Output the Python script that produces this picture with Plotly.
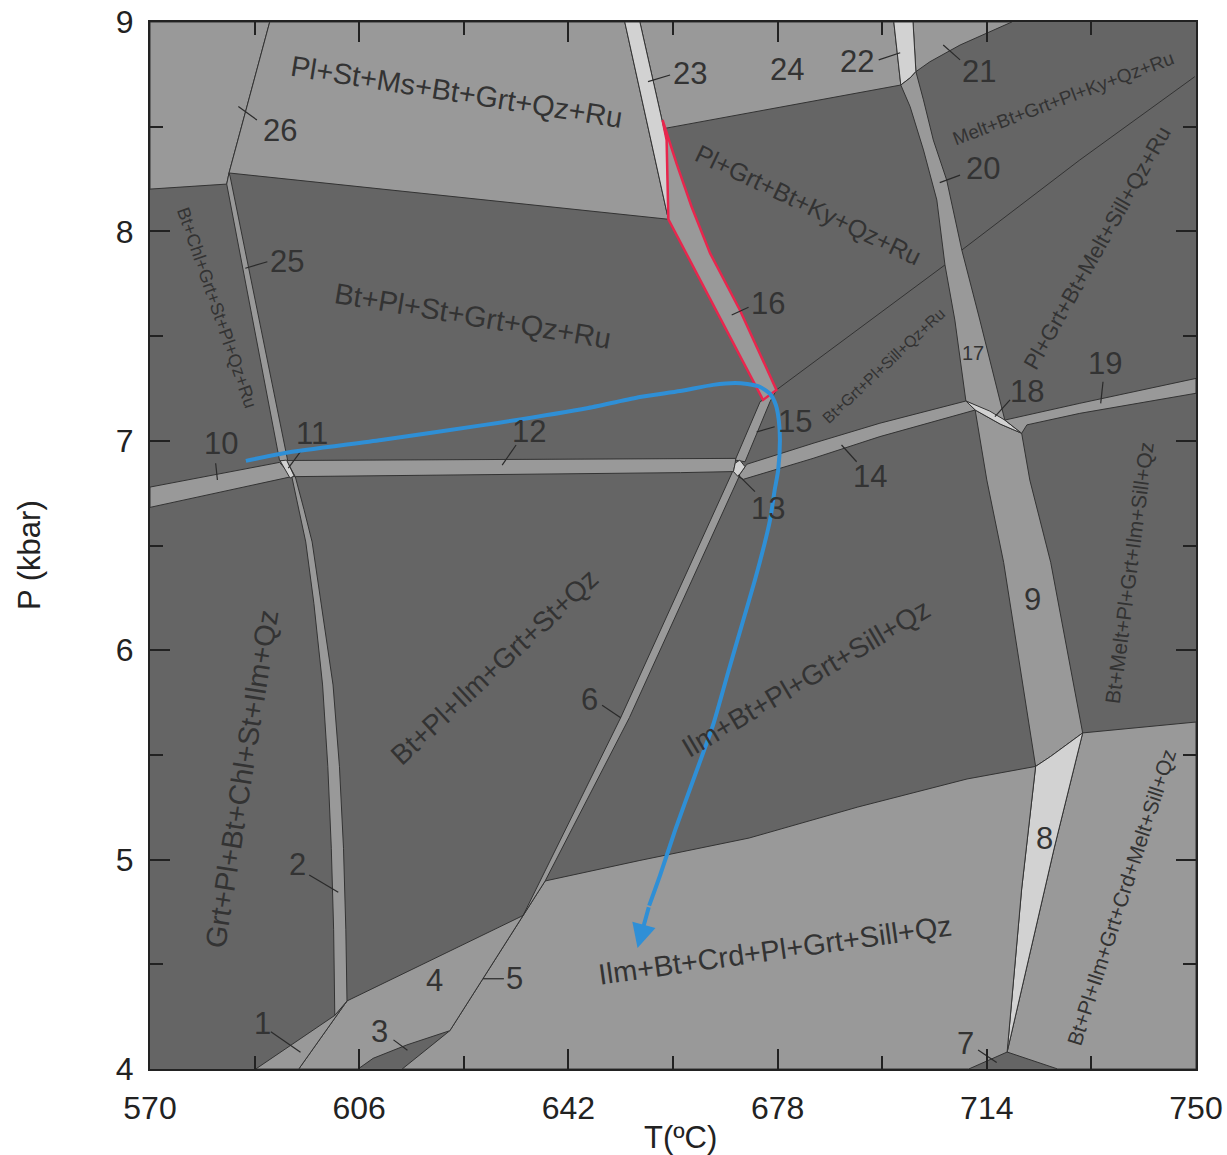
import plotly.graph_objects as go

# ---------------- colours / styles ----------------
DARK = "#656565"
MID = "#999999"
LIGHT = "#d2d2d2"
EDGE = "#333333"
TEXT = "#333333"
RED = "#e8264d"
BLUE = "#2f8fd6"
FONT = "Liberation Sans, Arial, sans-serif"

# ---------------- field polygons (T in degC, P in kbar) ----------------
TL_FIELD = [(570, 9.0), (590.6, 9.0), (583.6, 8.279), (583.2, 8.226), (570, 8.202)]
PSM_FIELD = [(590.6, 9.0), (651.7, 9.0), (659.2, 8.058), (583.6, 8.279)]
STRIP_23 = [(651.7, 9.0), (654.3, 9.0), (658.1, 8.532), (658.9, 8.436), (659.2, 8.058)]
FIELD_24 = [(654.3, 9.0), (698.0, 9.0), (699.2, 8.699), (681.9, 8.612), (658.6, 8.492), (658.1, 8.532)]
STRIP_22 = [(698.0, 9.0), (701.3, 9.0), (701.8, 8.763), (700.8, 8.733), (699.2, 8.699)]
FIELD_21 = [(701.3, 9.0), (718.3, 9.0), (709.4, 8.890), (704.2, 8.810), (701.8, 8.763)]
STRIP_20_17 = [(701.8, 8.763), (700.8, 8.733), (699.2, 8.699), (700.8, 8.596), (703.1, 8.389),
               (705.4, 8.150), (706.8, 7.840), (708.5, 7.577), (710.4, 7.190), (717.1, 7.099),
               (712.8, 7.577), (709.7, 7.911), (707.1, 8.245), (704.8, 8.436), (703.1, 8.628)]
JUNCTION_18 = [(710.4, 7.190), (714.5, 7.142), (717.1, 7.099), (720.0, 7.036), (716.3, 7.080), (712.0, 7.147)]
STRIP_9 = [(712.0, 7.147), (714.0, 6.813), (716.9, 6.419), (722.4, 5.445), (725.0, 5.493), (730.5, 5.605),
           (725.0, 6.419), (721.4, 6.813), (720.0, 7.036), (716.3, 7.080)]
STRIP_8 = [(722.4, 5.445), (725.0, 5.493), (730.5, 5.605), (725.6, 5.055), (717.5, 4.081), (720.0, 4.860)]
BR_FIELD = [(730.5, 5.605), (750, 5.657), (750, 4.0), (726.2, 4.0), (717.5, 4.081), (725.6, 5.055)]
BOTTOM_FIELD = [(638.0, 4.898), (654.3, 4.996), (673.1, 5.103), (691.8, 5.251), (710.6, 5.385),
                (722.4, 5.445), (720.0, 4.860), (717.5, 4.081), (710.9, 4.0), (613.4, 4.0),
                (621.6, 4.183), (634.2, 4.733)]
FIELD_4 = [(603.9, 4.325), (634.2, 4.733), (621.6, 4.183), (614.2, 4.115), (608.4, 4.051),
           (605.8, 4.0), (595.6, 4.0)]
FIELD_1 = [(588.2, 4.0), (601.8, 4.256), (603.9, 4.325), (595.6, 4.0)]
STRIP_2 = [(594.4, 6.829), (595.6, 6.672), (596.8, 6.517), (598.2, 6.224), (599.7, 5.834),
           (600.6, 5.445), (601.2, 5.054), (601.6, 4.665), (601.8, 4.256),
           (603.9, 4.325), (603.7, 4.665), (603.3, 5.054), (602.6, 5.445), (601.5, 5.834),
           (599.5, 6.224), (597.9, 6.517), (596.5, 6.672), (595.0, 6.829)]
STRIP_6 = [(670.3, 6.856), (671.5, 6.837), (652.5, 5.678), (638.0, 4.898), (634.2, 4.733), (651.0, 5.678)]
STRIP_15 = [(670.7, 6.908), (675.0, 7.187), (675.5, 7.195), (677.8, 7.243), (676.7, 7.187), (672.4, 6.900)]
JUNCTION_13 = [(670.7, 6.893), (671.5, 6.908), (672.4, 6.876), (671.2, 6.829), (670.4, 6.853)]
STRIP_12 = [(593.5, 6.906), (661.3, 6.916), (670.8, 6.916), (670.7, 6.893), (670.4, 6.853),
            (661.3, 6.848), (595.0, 6.829)]
STRIP_14 = [(672.4, 6.876), (672.7, 6.888), (684.1, 6.988), (695.6, 7.084), (710.4, 7.190),
            (712.0, 7.147), (695.6, 7.020), (684.1, 6.916), (672.1, 6.816), (671.2, 6.829)]
STRIP_19 = [(717.1, 7.099), (730.0, 7.179), (750, 7.298), (750, 7.227), (730.0, 7.131),
            (720.9, 7.076), (720.0, 7.036)]
STRIP_10 = [(570, 6.779), (592.3, 6.897), (594.4, 6.829), (570, 6.682)]
JUNCTION_11 = [(592.4, 6.904), (593.5, 6.908), (594.8, 6.832), (594.1, 6.822)]
STRIP_25 = [(583.2, 8.226), (583.6, 8.279), (583.8, 8.261), (593.7, 6.905), (592.3, 6.905)]
FIELD_16 = [(658.2, 8.532), (658.9, 8.436), (659.2, 8.058), (675.5, 7.195), (677.8, 7.243),
            (671.5, 7.625), (666.4, 7.895), (663.2, 8.118), (660.6, 8.325)]

# Ky / Sill reaction line crossing the dark fields
KY_SILL_T = [677.8, 695.6, 706.8, 709.7, 730.0, 749.8]
KY_SILL_P = [7.243, 7.609, 7.840, 7.911, 8.341, 8.739]

# P-T path (last point = arrow tip)
PATH_T = [586.5, 593.2, 609.8, 627.6, 645.4, 654.3, 661.2, 666.9, 670.7, 672.8, 675.0, 676.7,
          677.7, 678.2, 678.4, 678.1, 677.5, 676.7, 675.7, 674.1, 671.9, 669.5, 666.9, 663.8,
          660.5, 657.8, 655.9, 653.9]
PATH_P = [6.904, 6.942, 7.004, 7.076, 7.157, 7.209, 7.238, 7.267, 7.276, 7.271, 7.257, 7.224,
          7.171, 7.099, 7.004, 6.861, 6.765, 6.622, 6.502, 6.335, 6.125, 5.896, 5.643, 5.404,
          5.151, 4.927, 4.780, 4.578]

# Field numbers with leader lines
NUM_TEXT = ["26", "25", "23", "24", "22", "21", "20", "16", "17", "18", "19", "15", "14", "13",
            "12", "11", "10", "9", "8", "7", "6", "5", "4", "3", "2", "1"]
NUM_T = [592.3, 593.5, 662.9, 679.6, 691.6, 712.7, 713.3, 676.4, 711.7, 720.9, 734.3, 681.0,
         693.9, 676.4, 635.3, 597.9, 582.2, 721.9, 723.9, 710.3, 645.7, 632.7, 619.0, 609.5,
         595.3, 589.3]
NUM_P = [8.484, 7.855, 8.755, 8.771, 8.810, 8.763, 8.301, 7.657, 7.418, 7.235, 7.370, 7.091,
         6.829, 6.678, 7.043, 7.036, 6.988, 6.244, 5.103, 4.120, 5.766, 4.431, 4.421, 4.178,
         4.977, 4.216]
NUM_SIZE = [31] * 26
NUM_SIZE[8] = 20

LEADERS = [
    [(585.2, 8.596), (588.4, 8.532)],   # 26
    [(586.4, 7.824), (590.2, 7.855)],   # 25
    [(655.7, 8.715), (659.5, 8.747)],   # 23
    [(695.4, 8.819), (699.1, 8.853)],   # 22
    [(706.5, 8.890), (709.4, 8.819)],   # 21
    [(705.9, 8.233), (709.4, 8.269)],   # 20
    [(670.1, 7.601), (673.0, 7.638)],   # 16
    [(715.4, 7.115), (718.0, 7.195)],   # 18
    [(734.0, 7.282), (733.6, 7.179)],   # 19
    [(674.4, 7.043), (677.5, 7.067)],   # 15
    [(689.0, 6.980), (691.6, 6.900)],   # 14
    [(671.2, 6.837), (674.1, 6.757)],   # 13
    [(630.6, 6.884), (633.0, 6.980)],   # 12
    [(593.8, 6.869), (595.9, 6.948)],   # 11
    [(581.3, 6.893), (581.6, 6.813)],   # 10
    [(712.5, 4.091), (715.7, 4.031)],   # 7
    [(647.8, 5.737), (651.0, 5.678)],   # 6
    [(627.3, 4.431), (630.9, 4.431)],   # 5
    [(611.9, 4.139), (614.3, 4.090)],   # 3
    [(597.4, 4.927), (602.4, 4.844)],   # 2
    [(590.8, 4.178), (595.9, 4.080)],   # 1
]

# Assemblage labels
FIELD_TEXT = ["Pl+St+Ms+Bt+Grt+Qz+Ru", "Bt+Pl+St+Grt+Qz+Ru", "Bt+Chl+Grt+St+Pl+Qz+Ru",
              "Pl+Grt+Bt+Ky+Qz+Ru", "Melt+Bt+Grt+Pl+Ky+Qz+Ru", "Pl+Grt+Bt+Melt+Sill+Qz+Ru",
              "Bt+Grt+Pl+Sill+Qz+Ru", "Grt+Pl+Bt+Chl+St+Ilm+Qz", "Bt+Pl+Ilm+Grt+St+Qz",
              "Ilm+Bt+Pl+Grt+Sill+Qz", "Ilm+Bt+Crd+Pl+Grt+Sill+Qz", "Bt+Melt+Pl+Grt+Ilm+Sill+Qz",
              "Bt+Pl+Ilm+Grt+Crd+Melt+Sill+Qz"]
FIELD_T = [622.8, 625.6, 581.5, 683.4, 727.1, 733.1, 696.3, 585.8, 629.4, 682.9, 677.6, 738.6, 737.1]
FIELD_P = [8.666, 7.596, 7.634, 8.126, 8.637, 7.921, 7.362, 5.385, 5.920, 5.863, 4.568, 6.369, 4.821]
FIELD_ANGLE = [9, 9.5, 71, 25.5, -20.5, -60.5, -43, -81, -43, -30.5, -8, -82.5, -72]
FIELD_SIZE = [29, 29, 18, 25, 19, 22, 16, 29, 28, 28, 29, 21, 21]

X_TICKS = [570, 606, 642, 678, 714, 750]
Y_TICKS = [4, 5, 6, 7, 8, 9]

fig = go.Figure()

# reaction line (drawn first, strips cover it)
fig.add_trace(go.Scatter(x=KY_SILL_T, y=KY_SILL_P, mode="lines",
                         line=dict(color=EDGE, width=1), hoverinfo="skip", showlegend=False))


def poly(pts, color, edge=EDGE, width=1.0):
    xs = [p[0] for p in pts] + [pts[0][0]]
    ys = [p[1] for p in pts] + [pts[0][1]]
    fig.add_trace(go.Scatter(x=xs, y=ys, mode="lines", fill="toself", fillcolor=color,
                             line=dict(color=edge, width=width), hoverinfo="skip",
                             showlegend=False))


for pts, col in [(TL_FIELD, MID), (PSM_FIELD, MID), (FIELD_24, MID), (FIELD_21, MID),
                 (STRIP_23, LIGHT), (STRIP_22, LIGHT), (STRIP_20_17, MID), (STRIP_9, MID),
                 (JUNCTION_18, LIGHT), (STRIP_19, MID), (STRIP_14, MID), (BR_FIELD, MID),
                 (STRIP_8, LIGHT), (BOTTOM_FIELD, MID), (FIELD_4, MID), (FIELD_1, MID),
                 (STRIP_2, MID), (STRIP_6, MID), (STRIP_15, MID), (STRIP_12, MID),
                 (JUNCTION_13, LIGHT), (STRIP_10, MID), (STRIP_25, MID), (JUNCTION_11, LIGHT)]:
    poly(pts, col)

poly(FIELD_16, MID, edge=RED, width=2.5)

# leader lines
lx, ly = [], []
for seg in LEADERS:
    lx += [seg[0][0], seg[1][0], None]
    ly += [seg[0][1], seg[1][1], None]
fig.add_trace(go.Scatter(x=lx, y=ly, mode="lines", line=dict(color="#2a2a2a", width=1.2),
                         hoverinfo="skip", showlegend=False))

# P-T path
fig.add_trace(go.Scatter(x=PATH_T[:-1], y=PATH_P[:-1], mode="lines",
                         line=dict(color=BLUE, width=4, shape="spline", smoothing=0.6),
                         hoverinfo="skip", showlegend=False))

annotations = []
annotations.append(dict(x=PATH_T[-1], y=PATH_P[-1], ax=PATH_T[-2], ay=PATH_P[-2],
                        xref="x", yref="y", axref="x", ayref="y", text="", showarrow=True,
                        arrowhead=2, arrowsize=1.2, arrowwidth=4, arrowcolor=BLUE, standoff=0))

for t, x, y, s in zip(NUM_TEXT, NUM_T, NUM_P, NUM_SIZE):
    annotations.append(dict(x=x, y=y, xref="x", yref="y", text=t, showarrow=False,
                            font=dict(family=FONT, size=s, color=TEXT),
                            xanchor="center", yanchor="middle"))

for t, x, y, a, s in zip(FIELD_TEXT, FIELD_T, FIELD_P, FIELD_ANGLE, FIELD_SIZE):
    annotations.append(dict(x=x, y=y, xref="x", yref="y", text=t, showarrow=False, textangle=a,
                            font=dict(family=FONT, size=s, color=TEXT),
                            xanchor="center", yanchor="middle"))

annotations.append(dict(x=0.507, y=-0.065, xref="paper", yref="paper", text="T(ºC)",
                        showarrow=False, font=dict(family=FONT, size=31, color="#222222"),
                        xanchor="center", yanchor="middle"))
annotations.append(dict(x=-0.1147, y=0.491, xref="paper", yref="paper", text="P (kbar)",
                        textangle=-90, showarrow=False,
                        font=dict(family=FONT, size=31, color="#222222"),
                        xanchor="center", yanchor="middle"))

axis_common = dict(ticks="inside", ticklen=20, tickwidth=2, tickcolor="#222222",
                   showline=True, linewidth=2, linecolor="#222222", mirror="ticks",
                   showgrid=False, zeroline=False, automargin=False,
                   tickfont=dict(family=FONT, size=32, color="#222222"))

fig.update_layout(
    width=1227, height=1155,
    margin=dict(l=150, r=31, t=22, b=86, autoexpand=False),
    paper_bgcolor="white", plot_bgcolor=DARK,
    showlegend=False,
    annotations=annotations,
    xaxis=dict(range=[570, 750], tickvals=X_TICKS, ticklabelstandoff=10,
               minor=dict(ticks="inside", ticklen=13, tickwidth=2, tickcolor="#222222",
                          dtick=18, tick0=570, showgrid=False),
               **axis_common),
    yaxis=dict(range=[4, 9], tickvals=Y_TICKS, ticklabelstandoff=8,
               minor=dict(ticks="inside", ticklen=13, tickwidth=2, tickcolor="#222222",
                          dtick=0.5, tick0=4, showgrid=False),
               **axis_common),
)

fig.write_html("out.html")
